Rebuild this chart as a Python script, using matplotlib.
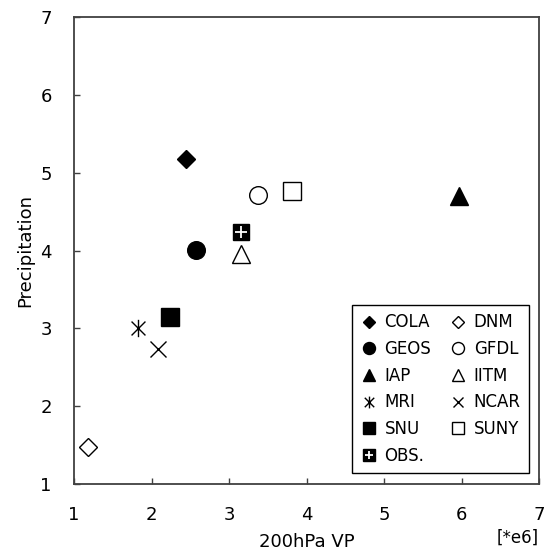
import matplotlib
matplotlib.use("Agg")
import matplotlib.pyplot as plt
from matplotlib.path import Path

# DATA
models = ["COLA", "GEOS", "IAP", "MRI", "SNU", "OBS.", "DNM", "GFDL", "IITM", "NCAR", "SUNY"]
vp = [2.45, 2.57, 5.97, 1.82, 2.24, 3.15, 1.18, 3.38, 3.16, 2.09, 3.81]
precip = [5.17, 4.01, 4.70, 3.00, 3.14, 4.24, 1.48, 4.71, 3.96, 2.74, 4.77]

x_ticks = [1, 2, 3, 4, 5, 6, 7]
y_ticks = [1, 2, 3, 4, 5, 6, 7]

# STYLES
FONT = "DejaVu Sans"
SPINE_COLOR = "#404040"

asterisk = Path(
    [(0, -1), (0, 1), (-0.8, -0.8), (0.8, 0.8), (-0.8, 0.8), (0.8, -0.8)],
    [Path.MOVETO, Path.LINETO, Path.MOVETO, Path.LINETO, Path.MOVETO, Path.LINETO],
)

styles = {
    "COLA": dict(marker="D", ms=9.6, mfc="black", mec="black"),
    "GEOS": dict(marker="o", ms=12.7, mfc="black", mec="black"),
    "IAP": dict(marker="^", ms=12.6, mfc="black", mec="black"),
    "MRI": dict(marker=asterisk, ms=12.5, mfc="none", mec="black", mew=1.0),
    "SNU": dict(marker="s", ms=12.5, mfc="black", mec="black"),
    "OBS.": dict(marker="s", ms=11.7, mfc="black", mec="black"),
    "DNM": dict(marker="D", ms=9.6, mfc="white", mec="black", mew=1.0),
    "GFDL": dict(marker="o", ms=12.7, mfc="white", mec="black", mew=1.0),
    "IITM": dict(marker="^", ms=12.6, mfc="white", mec="black", mew=1.0),
    "NCAR": dict(marker="x", ms=11.5, mec="black", mew=1.0),
    "SUNY": dict(marker="s", ms=12.5, mfc="white", mec="black", mew=1.0),
}

fig = plt.figure(figsize=(5.54, 5.53), dpi=100)
fig.set_facecolor("white")
ax = fig.add_axes([74 / 554, 69 / 553, 465 / 554, 467 / 553])

handles = []
for name, x, y in zip(models, vp, precip):
    h, = ax.plot([x], [y], linestyle="none", **styles[name])
    if name == "OBS.":
        p, = ax.plot([x], [y], linestyle="none", marker="+", ms=8, mec="white", mew=1.3)
        handles.append((h, p))
    else:
        handles.append(h)

ax.set_xlim(1, 7)
ax.set_ylim(1, 7)
ax.set_xticks(x_ticks)
ax.set_yticks(y_ticks)
ax.tick_params(direction="in", length=4, width=1, color=SPINE_COLOR, pad=16,
               labelsize=13, top=False, right=False)
for lab in ax.get_xticklabels() + ax.get_yticklabels():
    lab.set_family(FONT)

for sp in ax.spines.values():
    sp.set_color(SPINE_COLOR)
    sp.set_linewidth(1.3)

ax.set_xlabel("200hPa VP", fontsize=13, family=FONT, labelpad=6)
ax.set_ylabel("Precipitation", fontsize=13, family=FONT, labelpad=4)
ax.text(1.0, -0.115, "[*e6]", transform=ax.transAxes, ha="right", va="center",
        fontsize=12, family=FONT)

leg = ax.legend(handles, models, ncol=2, loc="upper left", bbox_to_anchor=(0.598, 0.383),
                borderaxespad=0, frameon=True, fancybox=False, edgecolor="black",
                framealpha=1, markerscale=0.68, handlelength=1.0, handletextpad=0.45,
                columnspacing=1.1, labelspacing=0.52, borderpad=0.5,
                prop={"family": FONT, "size": 12})
leg.get_frame().set_linewidth(1.0)

fig.savefig("out.png", dpi=100)
